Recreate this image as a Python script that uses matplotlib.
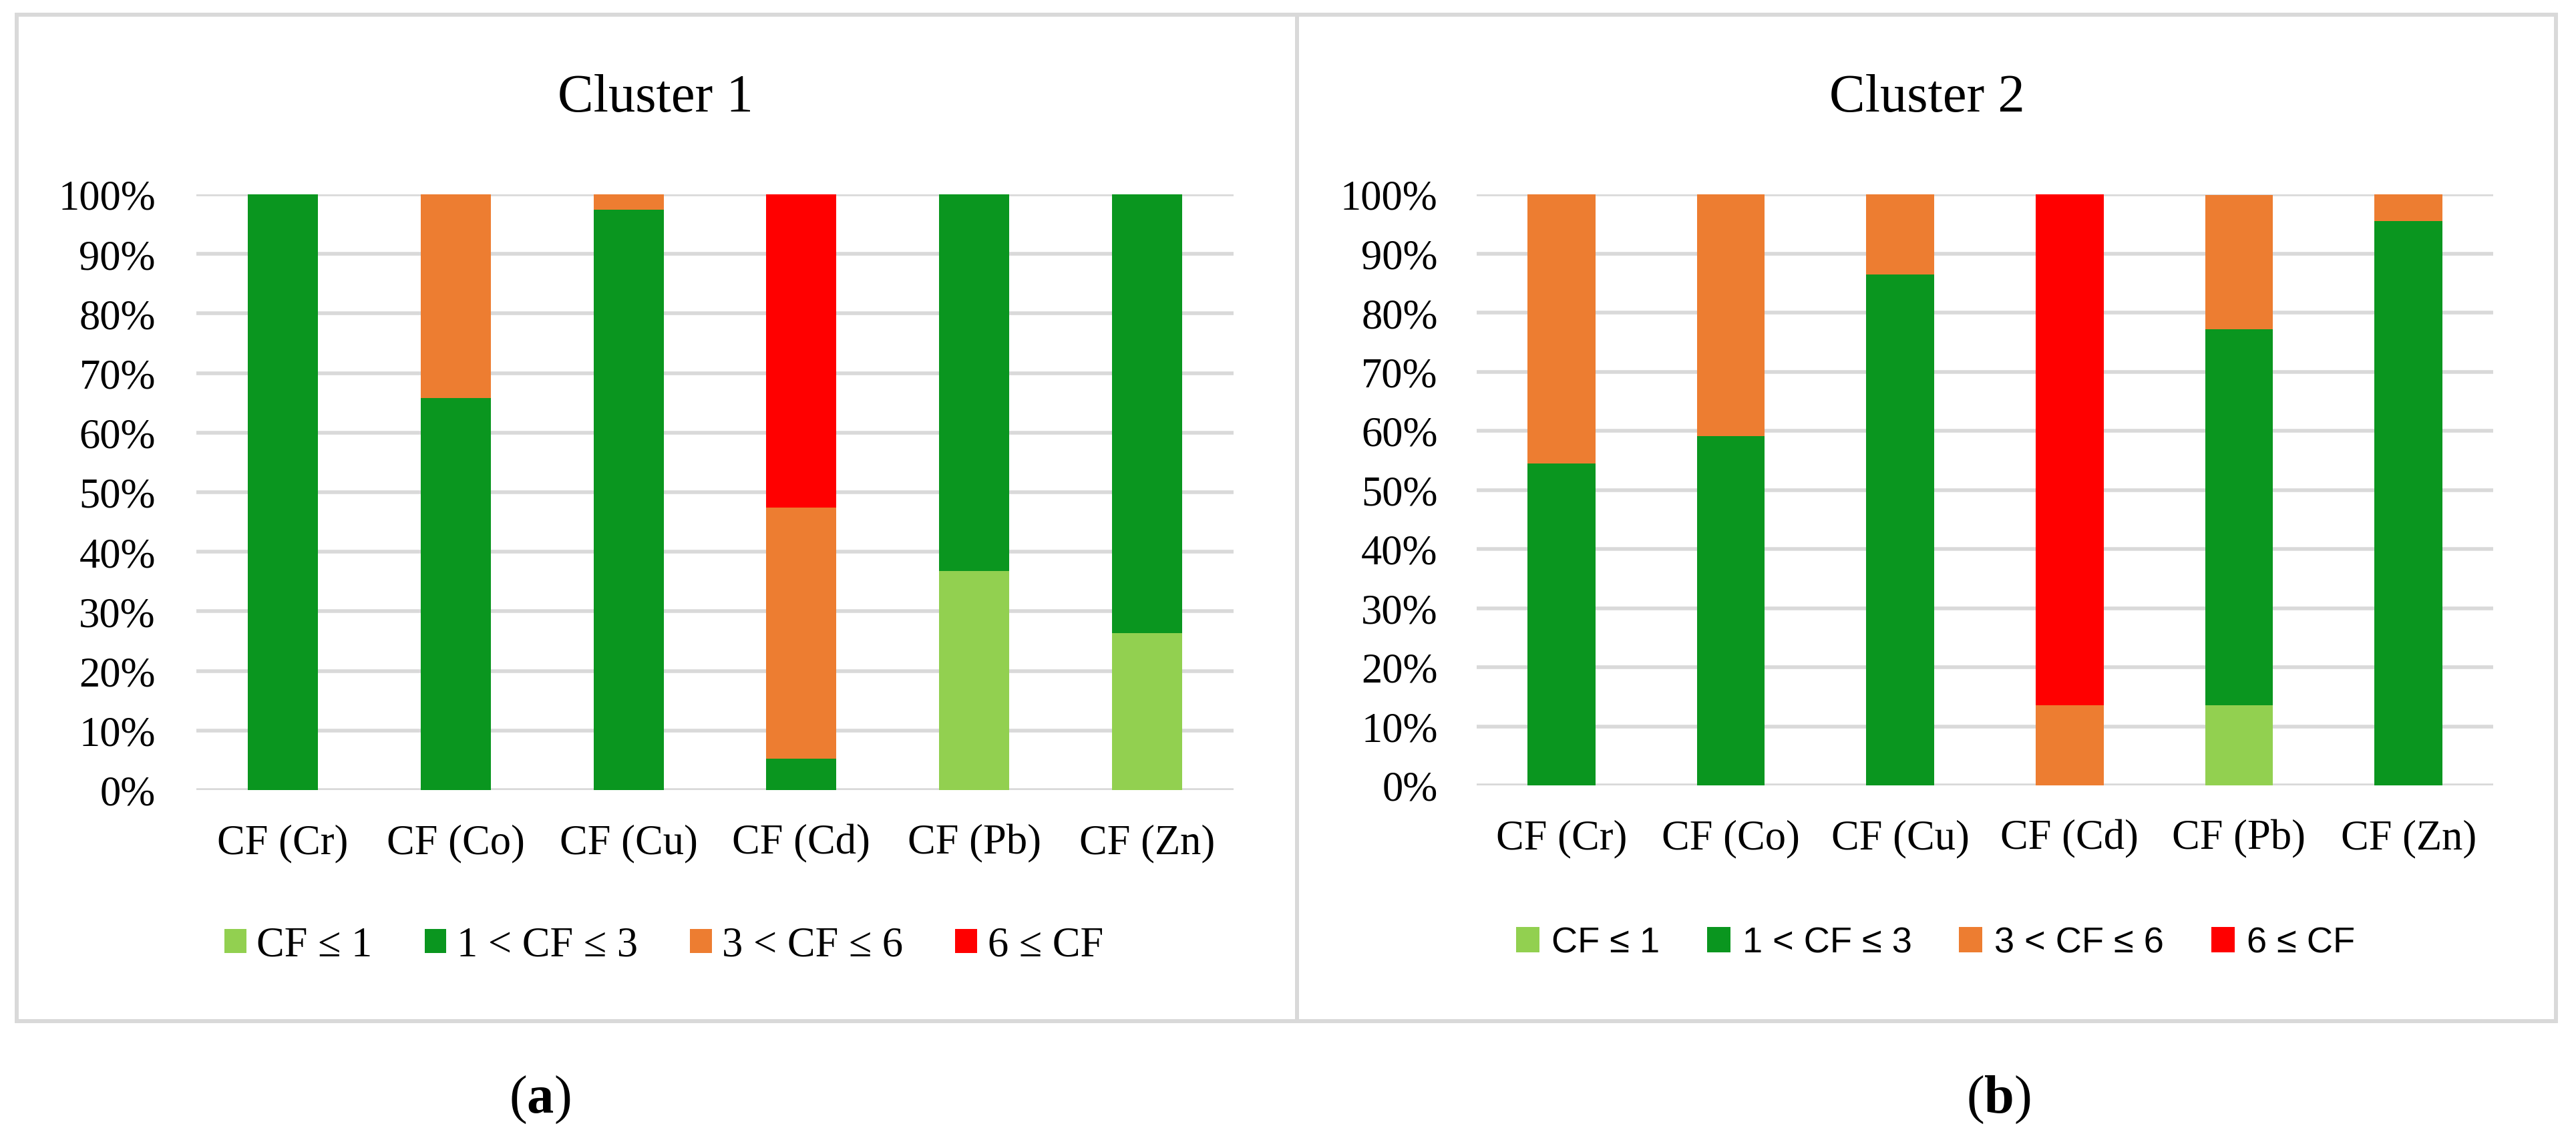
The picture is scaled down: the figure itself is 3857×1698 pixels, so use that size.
"""Stacked CF class shares for the two clusters, side by side."""

import matplotlib

matplotlib.use("Agg")
import matplotlib.pyplot as plt
from matplotlib.lines import Line2D
from matplotlib.patches import Rectangle
from matplotlib.ticker import FuncFormatter

plt.rcParams["font.family"] = ["Liberation Serif", "DejaVu Serif"]
plt.rcParams["mathtext.fontset"] = "custom"
plt.rcParams["mathtext.rm"] = "Liberation Serif"
plt.rcParams["mathtext.bf"] = "Liberation Serif:bold"

categories = ["CF (Cr)", "CF (Co)", "CF (Cu)", "CF (Cd)", "CF (Pb)", "CF (Zn)"]
classes = ["CF ≤ 1", "1 < CF ≤ 3", "3 < CF ≤ 6", "6 ≤ CF"]
colors = ["#92D050", "#0A961F", "#ED7D31", "#FF0000"]

# share of samples (%) in each CF class, cluster 1
c1_low = [0, 0, 0, 0, 36.8, 26.3]
c1_moderate = [100, 65.8, 97.4, 5.3, 63.2, 73.7]
c1_considerable = [0, 34.2, 2.6, 42.1, 0, 0]
c1_very_high = [0, 0, 0, 52.6, 0, 0]

# cluster 2
c2_low = [0, 0, 0, 0, 13.6, 0]
c2_moderate = [54.5, 59.1, 86.4, 0, 63.6, 95.5]
c2_considerable = [45.5, 40.9, 13.6, 13.6, 22.7, 4.5]
c2_very_high = [0, 0, 0, 86.4, 0, 0]

W, H = 3857, 1699
GRID = "#D9D9D9"


def fx(px):
    return px / W


def fy(px):
    return 1 - px / H


def draw_panel(ax, series, bar_width, ypad):
    x = range(len(categories))
    bottom = [0.0] * len(categories)
    for values, label, color in zip(series, classes, colors):
        ax.bar(x, values, bottom=bottom, width=bar_width, color=color,
               label=label, linewidth=0, zorder=2)
        bottom = [b + v for b, v in zip(bottom, values)]

    ax.set_xlim(-0.5, len(categories) - 0.5)
    ax.set_ylim(0, 100)
    ax.set_yticks(range(0, 101, 10))
    ax.yaxis.set_major_formatter(FuncFormatter(lambda v, _: f"{v:.0f}%"))
    ax.set_xticks(list(x))
    ax.set_xticklabels(categories)
    ax.grid(axis="y", color=GRID, linewidth=4.0, zorder=0)
    ax.set_axisbelow(True)
    for spine in ax.spines.values():
        spine.set_visible(False)
    ax.tick_params(axis="y", length=0, pad=ypad, labelsize=45)
    ax.tick_params(axis="x", length=0, pad=36, labelsize=45)


fig = plt.figure(figsize=(W / 100, H / 100), dpi=100)

ax1 = fig.add_axes([fx(294), fy(1184), fx(1847 - 294), (1184 - 292) / H])
ax2 = fig.add_axes([fx(2211), fy(1177), fx(3733 - 2211), (1177 - 292) / H])

draw_panel(ax1, [c1_low, c1_moderate, c1_considerable, c1_very_high], 0.406, 44)
draw_panel(ax2, [c2_low, c2_moderate, c2_considerable, c2_very_high], 0.40, 42)

fig.text(fx(981), fy(167), "Cluster 1", ha="center", va="baseline", fontsize=58)
fig.text(fx(2885), fy(167), "Cluster 2", ha="center", va="baseline", fontsize=58)

h1, l1 = ax1.get_legend_handles_labels()
fig.legend(h1, l1, loc="center", bbox_to_anchor=(fx(994), fy(1417)), ncol=4,
           frameon=False, fontsize=45, handlelength=0.52, handleheight=0.5,
           handletextpad=0.25, columnspacing=1.25, borderpad=0)

# panel (b) legend is set in a narrow sans face in the original
h2, l2 = ax2.get_legend_handles_labels()
fig.legend(h2, l2, loc="center", bbox_to_anchor=(fx(2898), fy(1413)), ncol=4,
           frameon=False, handlelength=0.65, handleheight=0.7,
           handletextpad=0.33, columnspacing=1.3, borderpad=0,
           prop={"family": ["Liberation Sans", "DejaVu Sans"], "size": 39})

# outer frame and divider between the two panels
fig.add_artist(Rectangle((fx(25), fy(1530)), fx(3827 - 25), (1530 - 23) / H,
                         transform=fig.transFigure, fill=False,
                         edgecolor=GRID, linewidth=4.3))
fig.add_artist(Line2D([fx(1942), fx(1942)], [fy(23), fy(1530)],
                      transform=fig.transFigure, color=GRID, linewidth=4.3))

fig.text(fx(808), fy(1647), r"($\mathbf{a}$)", ha="center", va="center", fontsize=58)
fig.text(fx(2992), fy(1647), r"($\mathbf{b}$)", ha="center", va="center", fontsize=58)

fig.savefig("out.png", dpi=100)
